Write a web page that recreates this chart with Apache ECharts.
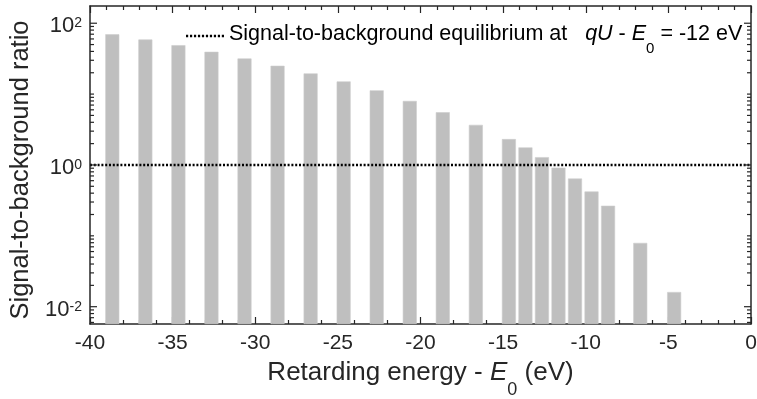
<!DOCTYPE html>
<html>
<head>
<meta charset="utf-8">
<script src="https://cdn.jsdelivr.net/npm/echarts@6/dist/echarts.min.js"></script>
<style>
html,body{margin:0;padding:0;background:#fff;}
#chart{width:757px;height:399px;}
</style>
</head>
<body>
<div id="chart"></div>
<script>
// Bar positions (qU - E0, eV) and signal-to-background ratio values
var energies = [-38.65, -36.65, -34.65, -32.65, -30.65, -28.65, -26.65, -24.65, -22.65, -20.65,
                -18.65, -16.65, -14.65, -13.65, -12.65, -11.65, -10.65, -9.65, -8.65, -6.7, -4.65];
var ratios = [69.8, 58.9, 49.0, 39.5, 31.8, 25.1, 19.6, 15.1, 11.3, 8.0,
              5.55, 3.68, 2.32, 1.77, 1.29, 0.916, 0.643, 0.422, 0.266, 0.0795, 0.0161];
var equilibriumLevel = 1;
var yMajorExponents = [-2, 0, 2];
var xRange = [-40, 0];
var yRange = [0.0057, 175];

var FONT = "'Liberation Sans', Arial, Helvetica, sans-serif";
var AX = '#262626';

var barData = energies.map(function (e, i) { return [e, ratios[i]]; });

// y tick values (log axis): majors at 10^-2,10^0,10^2 and minor m x 10^n
var yTicks = [];
for (var n = -3; n <= 2; n++) {
  for (var m = 1; m <= 9; m++) {
    var v = m * Math.pow(10, n);
    if (v < yRange[0] || v > yRange[1]) continue;
    var major = (m === 1 && yMajorExponents.indexOf(n) >= 0);
    yTicks.push([xRange[0], v, major ? 1 : 0]);
  }
}

// dotted legend sample icon (10 dots)
var dotPath = 'path://';
for (var d = 0; d < 10; d++) {
  dotPath += 'M' + (d * 4) + ',0h2.2v2.5h-2.2z';
}

var chart = echarts.init(document.getElementById('chart'), null, {renderer: 'canvas'});

var option = {
  animation: false,
  backgroundColor: '#fff',
  textStyle: {fontFamily: FONT},
  grid: {left: 90, right: 6, top: 6, bottom: 75, containLabel: false, outerBoundsMode: 'none'},
  legend: {
    left: 181, top: 18, padding: 5,
    itemWidth: 38, itemHeight: 20, itemGap: 4,
    data: [{name: 'eq', icon: dotPath}],
    itemStyle: {color: '#000'},
    formatter: function () {
      return '{n|Signal-to-background equilibrium at   }{i|qU}{n| - }{i|E}{sub|0}{n| = -12 eV}';
    },
    textStyle: {
      fontFamily: FONT, color: '#000', fontSize: 21.5,
      rich: {
        n: {fontFamily: FONT, fontSize: 21.5, color: '#000', lineHeight: 26, verticalAlign: 'top'},
        i: {fontFamily: FONT, fontSize: 21.5, color: '#000', fontStyle: 'italic', lineHeight: 26, verticalAlign: 'top'},
        sub: {fontFamily: FONT, fontSize: 15, color: '#000', lineHeight: 16, verticalAlign: 'top', padding: [18, 0, 0, 0]}
      }
    }
  },
  xAxis: [{
    type: 'value', position: 'bottom', min: xRange[0], max: xRange[1], interval: 5,
    axisLine: {show: true, onZero: false, lineStyle: {color: AX, width: 1.5}},
    axisTick: {show: true, inside: true, length: 7, lineStyle: {color: AX, width: 1.2}},
    minorTick: {show: true, splitNumber: 5, length: 4, lineStyle: {color: AX, width: 1.2}},
    splitLine: {show: false},
    axisLabel: {show: true, margin: 9, fontSize: 21, color: AX, fontFamily: FONT,
      showMinLabel: true, showMaxLabel: true},
    name: '{n|Retarding energy - }{i|E}{sub|0}{n| (eV)}',
    nameLocation: 'middle', nameGap: 36,
    nameTextStyle: {
      fontFamily: FONT, color: AX, fontSize: 26,
      rich: {
        n: {fontFamily: FONT, fontSize: 26, color: AX, lineHeight: 30, verticalAlign: 'top'},
        i: {fontFamily: FONT, fontSize: 26, color: AX, fontStyle: 'italic', lineHeight: 30, verticalAlign: 'top'},
        sub: {fontFamily: FONT, fontSize: 18, color: AX, lineHeight: 18, verticalAlign: 'top', padding: [21, 0, 0, 0]}
      }
    }
  }, {
    type: 'value', position: 'top', min: xRange[0], max: xRange[1], interval: 5,
    axisLine: {show: true, onZero: false, lineStyle: {color: AX, width: 1.5}},
    axisTick: {show: true, inside: true, length: 7, lineStyle: {color: AX, width: 1.2}},
    minorTick: {show: true, splitNumber: 5, length: 4, lineStyle: {color: AX, width: 1.2}},
    splitLine: {show: false},
    axisLabel: {show: false}
  }],
  yAxis: [{
    type: 'log', position: 'left', min: yRange[0], max: yRange[1], startValue: yRange[0],
    logBase: 10,
    axisLine: {show: true, onZero: false, lineStyle: {color: AX, width: 1.5}},
    axisTick: {show: false},
    splitLine: {show: false},
    axisLabel: {
      show: true, margin: 8, color: AX, fontFamily: FONT, showMinLabel: false, showMaxLabel: false,
      formatter: function (v) {
        var e = Math.log(v) / Math.LN10;
        var r = Math.round(e);
        if (Math.abs(e - r) > 1e-6 || yMajorExponents.indexOf(r) < 0) return '';
        return '{b|10}{sup|' + r + '}';
      },
      rich: {
        b: {fontFamily: FONT, fontSize: 22, color: AX, lineHeight: 28, padding: [6, 0, 0, 0]},
        sup: {fontFamily: FONT, fontSize: 14, color: AX, lineHeight: 14, verticalAlign: 'top', padding: [7, 0, 0, 0]}
      }
    },
    name: 'Signal-to-background ratio', nameLocation: 'middle', nameGap: 52,
    nameTextStyle: {fontFamily: FONT, fontSize: 25.5, color: AX, padding: [0, 10, 0, 0]}
  }, {
    type: 'log', position: 'right', min: yRange[0], max: yRange[1], logBase: 10,
    axisLine: {show: true, onZero: false, lineStyle: {color: AX, width: 1.5}},
    axisTick: {show: false}, splitLine: {show: false}, axisLabel: {show: false}
  }],
  series: [{
    type: 'bar', name: 'ratio', xAxisIndex: 0, yAxisIndex: 0,
    data: barData, barWidth: 14,
    itemStyle: {color: '#bfbfbf', borderColor: '#cccccc', borderWidth: 0.6},
    silent: true, z: 2
  }, {
    type: 'line', name: 'eq', xAxisIndex: 0, yAxisIndex: 0,
    data: [[xRange[0], equilibriumLevel], [xRange[1], equilibriumLevel]],
    symbol: 'none', silent: true, z: 3,
    itemStyle: {color: '#000'},
    lineStyle: {color: '#000', width: 2.5, type: [2, 1.8]}
  }, {
    type: 'custom', name: 'yticks', xAxisIndex: 0, yAxisIndex: 0,
    data: yTicks, silent: true, clip: false, z: 5,
    encode: {x: 0, y: 1},
    renderItem: function (params, api) {
      var v = api.value(1);
      var len = api.value(2) ? 7 : 4;
      var pl = api.coord([xRange[0], v]);
      var pr = api.coord([xRange[1], v]);
      var st = {stroke: AX, lineWidth: 1.2};
      return {type: 'group', children: [
        {type: 'line', shape: {x1: pl[0], y1: pl[1], x2: pl[0] + len, y2: pl[1]}, style: st},
        {type: 'line', shape: {x1: pr[0] - len, y1: pr[1], x2: pr[0], y2: pr[1]}, style: st}
      ]};
    }
  }]
};
chart.setOption(option);
</script>
</body>
</html>
